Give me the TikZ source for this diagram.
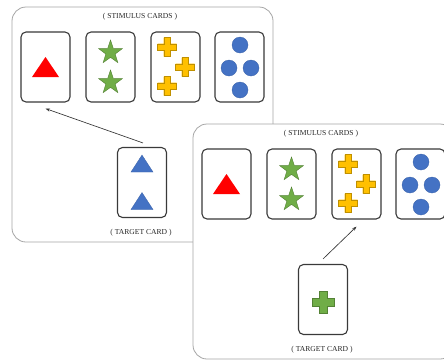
\documentclass[tikz,border=0pt]{standalone}
\usepackage{fontspec}
\setmainfont{Liberation Serif}
\usetikzlibrary{arrows.meta,calc}

\definecolor{redfill}{HTML}{FF0000}
\definecolor{greenfill}{HTML}{70AD47}
\definecolor{greenline}{HTML}{548235}
\definecolor{goldfill}{HTML}{FFC000}
\definecolor{goldline}{HTML}{BF9000}
\definecolor{bluefill}{HTML}{4472C4}
\definecolor{blueline}{HTML}{3A62A8}
\definecolor{cardline}{HTML}{3A3A3A}
\definecolor{panelline}{HTML}{A6A6A6}

\tikzset{
  card/.style={draw=cardline, line width=1.1pt, rounded corners=5pt,
    minimum width=49pt, minimum height=70pt, inner sep=0pt, fill=white},
  panelframe/.style={draw=panelline, line width=0.8pt, rounded corners=14pt, fill=white},
  caption/.style={font=\fontsize{7.6}{8}\selectfont, text=black!85, inner sep=0pt, anchor=base},
  link/.style={draw=black!80, line width=0.65pt, -{Stealth[length=4.5pt,width=3.2pt]}},
  % symbols printed on the cards
  redtri/.pic={\fill[redfill] (-13.5,10) -- (0,-10) -- (13.5,10) -- cycle;},
  bluetri/.pic={\filldraw[fill=bluefill, draw=blueline, line width=0.3pt]
    (-11,8.5) -- (0,-8.5) -- (11,8.5) -- cycle;},
  gstar/.pic={\filldraw[fill=greenfill, draw=greenline, line width=0.4pt]
    (-90:12.5) -- (-54:4.9) -- (-18:12.5) -- (18:4.9) -- (54:12.5) -- (90:4.9)
    -- (126:12.5) -- (162:4.9) -- (198:12.5) -- (234:4.9) -- cycle;},
  ycross/.pic={\filldraw[fill=goldfill, draw=goldline, line width=0.4pt]
    (-3.3,-9.5) -- (3.3,-9.5) -- (3.3,-3.3) -- (9.5,-3.3) -- (9.5,3.3) -- (3.3,3.3)
    -- (3.3,9.5) -- (-3.3,9.5) -- (-3.3,3.3) -- (-9.5,3.3) -- (-9.5,-3.3) -- (-3.3,-3.3) -- cycle;},
  gcross/.pic={\filldraw[fill=greenfill, draw=greenline, line width=0.4pt]
    (-4,-11) -- (4,-11) -- (4,-4) -- (11,-4) -- (11,4) -- (4,4)
    -- (4,11) -- (-4,11) -- (-4,4) -- (-11,4) -- (-11,-4) -- (-4,-4) -- cycle;},
  bdot/.pic={\filldraw[fill=bluefill, draw=blueline, line width=0.3pt] (0,0) circle (8);},
  % framed set of four stimulus cards
  stimpanel/.pic={
    \path[panelframe] (0,0) rectangle (261,235);
    \node[caption] (-title) at (128,11.5) {( STIMULUS CARDS )};
    \node[card] (-c1) at (33.5,60) {};
    \node[card] (-c2) at (98.5,60) {};
    \node[card] (-c3) at (163.5,60) {};
    \node[card] (-c4) at (227.5,60) {};
    \pic at (33.5,60) {redtri};
    \pic at (98.5,45.5) {gstar};
    \pic at (98.5,75.5) {gstar};
    \pic at (155,40) {ycross};
    \pic at (173,60) {ycross};
    \pic at (155,79) {ycross};
    \pic at (228,38) {bdot};
    \pic at (217,61) {bdot};
    \pic at (239,61) {bdot};
    \pic at (228,83) {bdot};
  },
}

\begin{document}
\begin{tikzpicture}[x=1pt,y=-1pt]
  \useasboundingbox (0,0) rectangle (444,360);
  \clip (0,0) rectangle (444,360);
  \fill[white] (0,0) rectangle (444,360);

  % first trial
  \pic (pa) at (12,7) {stimpanel};
  \node[card] (tgt1) at (142,182.5) {};
  \pic at (142,163.5) {bluetri};
  \pic at (142,201) {bluetri};
  \node[caption] (lab1) at (141,234.5) {( TARGET CARD )};
  \draw[link] ($(tgt1.north)+(1,-4)$) -- ($(pa-c1.south)+(0,6)$);

  % second trial, laid over the first
  \pic (pb) at (193,124) {stimpanel};
  \node[card] (tgt2) at (323,299.5) {};
  \pic at (323,302) {gcross};
  \node[caption] (lab2) at (322,351.5) {( TARGET CARD )};
  \draw[link] ($(tgt2.north)+(0,-5)$) -- ($(pb-c3.south)+(0,7)$);
\end{tikzpicture}
\end{document}
